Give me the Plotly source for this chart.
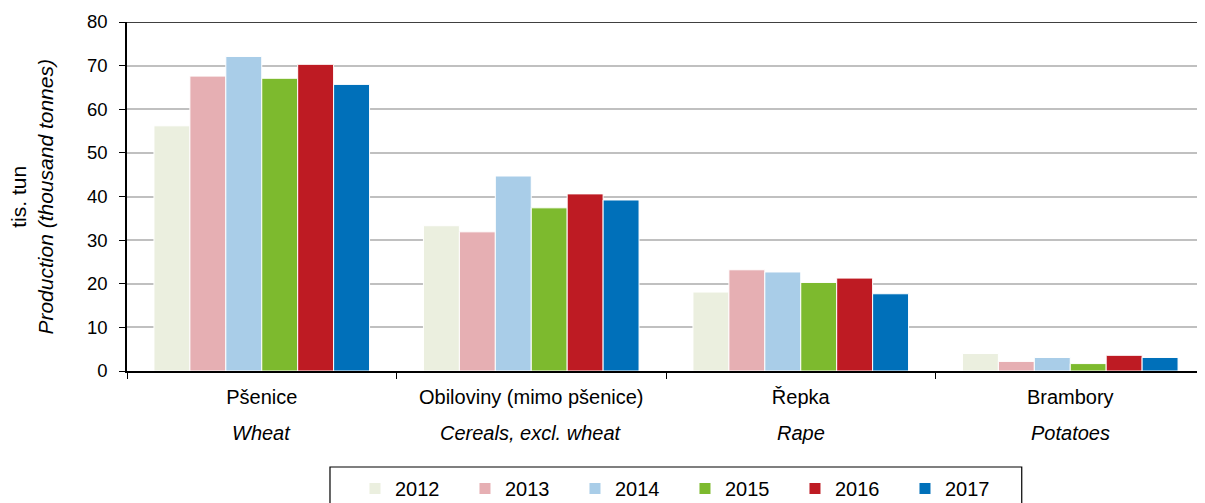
import plotly.graph_objects as go

categories_cz = ["Pšenice", "Obiloviny (mimo pšenice)", "Řepka", "Brambory"]
categories_en = ["Wheat", "Cereals, excl. wheat", "Rape", "Potatoes"]
years = ["2012", "2013", "2014", "2015", "2016", "2017"]
values = {
    "2012": [56.2, 33.3, 18.1, 4.0],
    "2013": [67.6, 31.9, 23.2, 2.2],
    "2014": [72.1, 44.7, 22.7, 3.1],
    "2015": [67.1, 37.4, 20.3, 1.7],
    "2016": [70.3, 40.6, 21.3, 3.6],
    "2017": [65.7, 39.2, 17.7, 3.1],
}
colors = ["#EBEFDF", "#E6AFB3", "#A9CDE8", "#7DBA2E", "#BE1B23", "#0070BA"]
y_title = ["tis. tun", "Production (thousand tonnes)"]
y_max = 80

fig = go.Figure()
for y, c in zip(years, colors):
    fig.add_trace(go.Bar(x=categories_cz, y=values[y], name=y,
                         marker=dict(color=c, line=dict(color="white", width=1))))

for cz, en in zip(categories_cz, categories_en):
    fig.add_annotation(x=cz, xref="x", y=-0.178, yref="paper", yanchor="middle",
                       text="<i>" + en + "</i>", showarrow=False,
                       font=dict(size=20, color="black"))

# y-axis title
fig.add_annotation(x=-0.089, xref="paper", y=0.5, yref="paper",
                   xanchor="center", yanchor="middle", textangle=-90,
                   text=y_title[0] + "<br><i>" + y_title[1] + "</i>", showarrow=False,
                   font=dict(size=21, color="black"))

# top border line of plot area
fig.add_shape(type="line", xref="paper", yref="y", x0=0, x1=1, y0=y_max, y1=y_max,
              line=dict(color="black", width=1.5), layer="above")

# legend frame
fig.add_shape(type="rect", xref="paper", yref="paper",
              x0=0.1883, x1=0.830, y0=-0.275, y1=-0.45,
              line=dict(color="black", width=1.2), fillcolor="rgba(0,0,0,0)")

font = "Liberation Sans, Arial, sans-serif"
fig.update_layout(
    width=1197, height=495,
    margin=dict(l=119, r=0, t=14, b=132),
    paper_bgcolor="white", plot_bgcolor="white",
    barmode="group", bargap=0.2, bargroupgap=0,
    font=dict(family=font, size=18, color="black"),
    showlegend=True,
    legend=dict(orientation="h", x=0.2115, xanchor="left",
                y=0.0687, yref="container", yanchor="top",
                borderwidth=0, bgcolor="rgba(0,0,0,0)", font=dict(size=20),
                itemwidth=30, entrywidth=65, entrywidthmode="pixels",
                traceorder="normal"),
    xaxis=dict(showline=True, linecolor="black", linewidth=1.5,
               ticks="outside", tickson="boundaries", ticklen=6, tickcolor="black",
               tickfont=dict(size=20), ticklabelstandoff=7),
    yaxis=dict(range=[0, y_max], dtick=10, showline=True, linecolor="black", linewidth=1.5,
               ticks="outside", ticklen=6, tickcolor="black",
               showgrid=True, gridcolor="#C0C0C0", gridwidth=1.5,
               tickfont=dict(size=18.5), ticklabelstandoff=8),
)
fig.write_html("out.html")
